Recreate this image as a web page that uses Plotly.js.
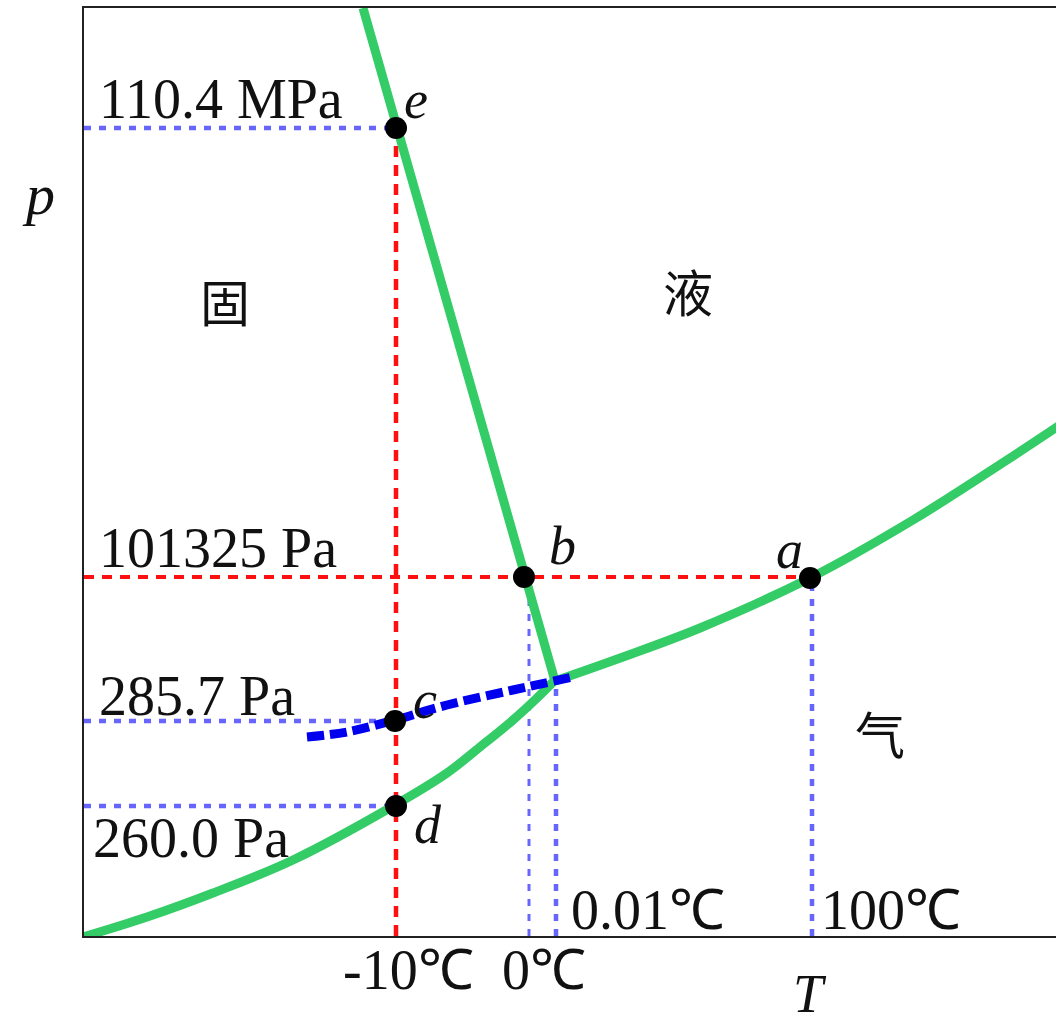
<!DOCTYPE html>
<html>
<head>
<meta charset="utf-8">
<script src="https://cdn.plot.ly/plotly-3.0.1.min.js"></script>
<style>html,body{margin:0;padding:0;background:#fff;}#chart{width:1056px;height:1025px;}</style>
</head>
<body>
<div id="chart"></div>
<script>
// Schematic phase diagram of water (diagram units)
// Solid-liquid (melting) line
const meltT = [279, 471];
const meltP = [928, 255];
// Liquid-gas (vaporisation) curve
const vapT = [471, 539, 616, 726, 829, 923, 976];
const vapP = [255, 279, 308, 358, 416, 476, 511];
// Solid-gas (sublimation) curve
const subT = [-1, 63, 129, 209, 311, 363, 396, 429, 453, 471];
const subP = [-1, 19, 43, 76, 131, 163, 189, 216, 238, 256];
// Supercooled water (metastable) curve
const superT = [223, 263, 311, 363, 429, 489];
const superP = [199, 204, 216, 231, 246, 259];
// Labelled state points
const ptNames = ['e', 'b', 'a', 'c', 'd'];
const ptT = [312, 440, 726, 311, 312];
const ptP = [808, 359, 358, 215, 130];
// Reference positions on the axes
const T_m10 = 312, T_0 = 445, T_tp = 472, T_100 = 728;
const P_e = 808, P_atm = 359, P_c = 215, P_d = 130, P_tp = 255;
const pLabels = ['110.4 MPa', '101325 Pa', '285.7 Pa', '260.0 Pa'];
const tLabels = ['-10℃', '0℃', '0.01℃', '100℃'];
const phaseNames = ['固', '液', '气'];

const XR = 972, YR = 928;
const red = '#ff1010', lblue = '#6666ff', green = '#33cc66';
function seg(x, y, color, width, dash, shape) {
  return {x: x, y: y, mode: 'lines', type: 'scatter', hoverinfo: 'skip',
    line: {color: color, width: width, dash: dash, shape: shape || 'linear'}};
}
const traces = [
  seg([0, ptT[2]], [P_atm, P_atm], red, 4, '10px,8px'),
  seg([T_m10, T_m10], [0, P_e], red, 4.5, '11px,8px'),
  seg([0, T_m10], [P_e, P_e], lblue, 4.5, '7px,8px'),
  seg([0, T_m10], [P_c, P_c], lblue, 4.5, '7px,8px'),
  seg([0, T_m10], [P_d, P_d], lblue, 4.5, '7px,8px'),
  seg([T_0, T_0], [0, 345], lblue, 3, '7px,8px'),
  seg([T_tp, T_tp], [0, P_tp], lblue, 4.5, '7px,8px'),
  seg([T_100, T_100], [0, P_atm], lblue, 4.5, '7px,8px'),
  seg(meltT, meltP, green, 9, 'solid'),
  seg(vapT, vapP, green, 9, 'solid', 'spline'),
  seg(subT, subP, green, 9, 'solid', 'spline'),
  seg(superT, superP, '#0000ee', 9, '17px,6px', 'spline'),
  {x: ptT, y: ptP, mode: 'markers', type: 'scatter', hoverinfo: 'skip',
   marker: {color: '#000', size: 22}}
];

const serif = 'Liberation Serif, Times New Roman, serif';
const cjk = 'Noto Sans CJK SC';
const ann = [];
// position given in diagram units; placed in paper coordinates so labels outside the axes still show
function A(text, x, y, xa, size, family) {
  ann.push({text: text, x: x / XR, y: y / YR, xref: 'paper', yref: 'paper', xanchor: xa, yanchor: 'middle',
    showarrow: false, borderpad: 0, font: {family: family, size: size, color: '#111'}});
}
// pressure labels
A(pLabels[0], 14, 837, 'left', 56, serif);
A(pLabels[1], 14, 388, 'left', 56, serif);
A(pLabels[2], 14, 240, 'left', 56, serif);
A(pLabels[3], 8, 98, 'left', 56, serif);
// temperature labels
A(tLabels[0], 324, -34, 'center', 56, serif);
A(tLabels[1], 460, -34, 'center', 56, serif);
A(tLabels[2], 486, 26, 'left', 56, serif);
A(tLabels[3], 736, 26, 'left', 56, serif);
// point letters
const ptLab = [[332, 836], [478, 390], [705, 386], [341, 236], [344, 111]];
ptNames.forEach((n, i) => A('<i>' + n + '</i>', ptLab[i][0], ptLab[i][1], 'center', 54, serif));
// phase names
A(phaseNames[0], 141, 636, 'center', 50, cjk);
A(phaseNames[1], 604, 646, 'center', 50, cjk);
A(phaseNames[2], 796, 204, 'center', 50, cjk);
// axis letters
A('<i>p</i>', -46, 741, 'center', 58, serif);
A('<i>T</i>', 726, -58, 'center', 54, serif);

const layout = {
  width: 1056, height: 1025,
  margin: {l: 84, r: 0, t: 8, b: 89},
  paper_bgcolor: '#fff', plot_bgcolor: '#fff',
  showlegend: false,
  xaxis: {range: [0, XR], showgrid: false, zeroline: false, showticklabels: false, ticks: '',
    showline: true, linecolor: '#222', linewidth: 2, mirror: true, fixedrange: true},
  yaxis: {range: [0, YR], showgrid: false, zeroline: false, showticklabels: false, ticks: '',
    showline: true, linecolor: '#222', linewidth: 2, fixedrange: true},
  annotations: ann
};
Plotly.newPlot('chart', traces, layout, {displayModeBar: false, staticPlot: true});
</script>
</body>
</html>
